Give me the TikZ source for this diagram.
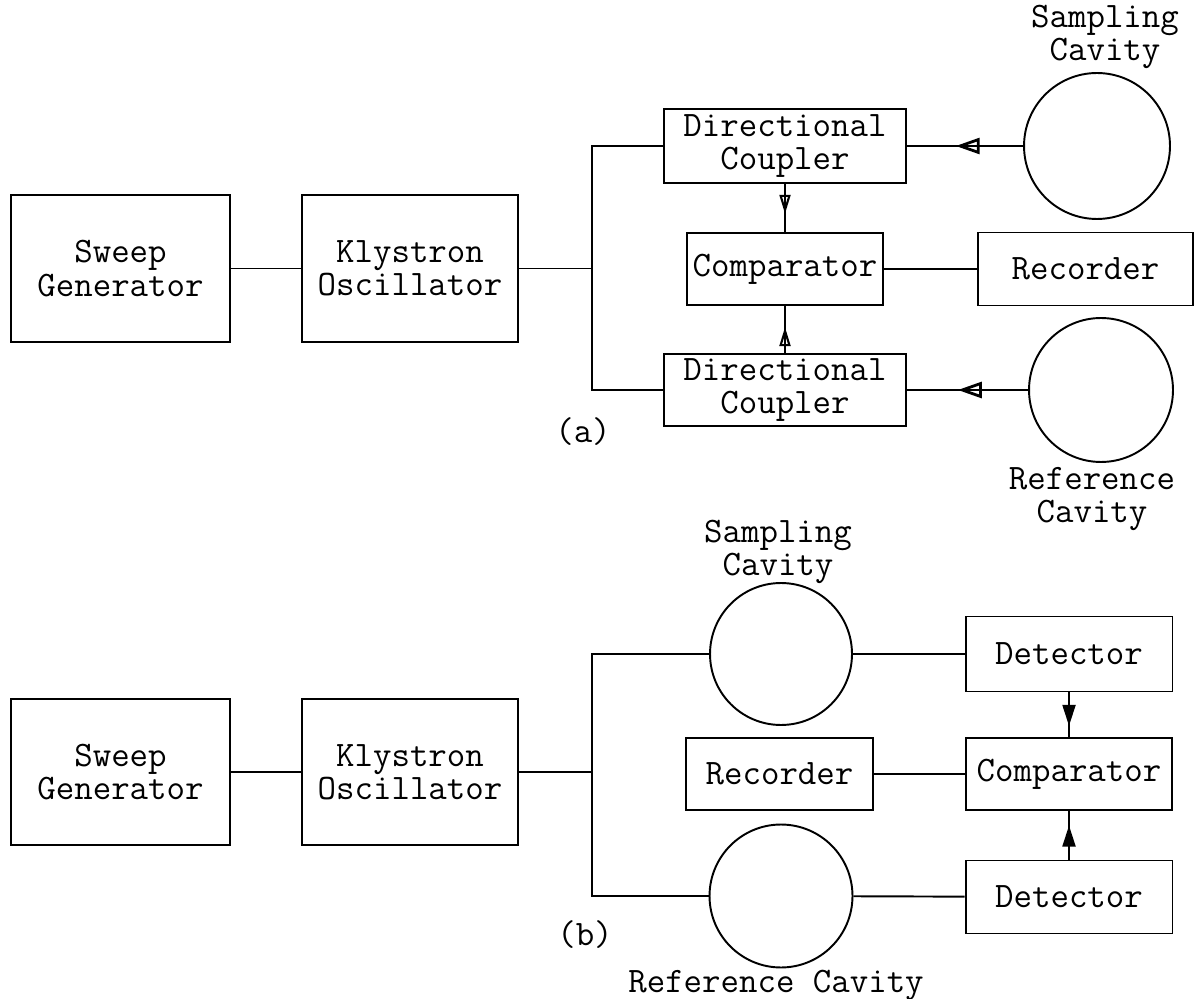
\documentclass[tikz,border=0pt]{standalone}
\usetikzlibrary{arrows.meta}
\usetikzlibrary{decorations.markings}

\begin{document}
\begin{tikzpicture}[
  x=0.02cm, y=-0.02cm, line width=1.1pt,
  every node/.style={font=\ttfamily\fontsize{20.4}{19}\selectfont, inner sep=0pt},
  box/.style={draw, rectangle, align=center},
  cavity/.style={draw, circle},
  lbl/.style={align=center},
  opentip/.style={postaction={decorate}, decoration={markings,
    mark=at position #1 with {\arrow{Triangle[open, length=0.48cm, width=0.32cm, line width=1.6pt]}}}},
  slimtip/.style={postaction={decorate}, decoration={markings,
    mark=at position #1 with {\arrow{Triangle[open, length=0.38cm, width=0.22cm, line width=1.2pt]}}}},
  filltip/.style={postaction={decorate}, decoration={markings,
    mark=at position #1 with {\arrow{Triangle[length=0.42cm, width=0.26cm]}}}}
]
\useasboundingbox (0,0) rectangle (1196,999);

% (a)
\node[box, minimum width=4.38cm, minimum height=2.94cm] (sga) at (120.5,268.5) {Sweep\\Generator};
\node[box, minimum width=4.32cm, minimum height=2.94cm] (koa) at (410,268.5) {Klystron\\Oscillator};
\node[box, minimum width=4.84cm, minimum height=1.48cm] (dcu) at (785,146) {Directional\\Coupler};
\node[box, minimum width=3.92cm, minimum height=1.44cm] (cpa) at (785,269) {Comparator};
\node[box, minimum width=4.84cm, minimum height=1.44cm] (dcl) at (785,390) {Directional\\Coupler};
\node[box, minimum width=4.3cm, minimum height=1.46cm] (rca) at (1085.5,269) {Recorder};
\node[cavity, minimum size=2.92cm] (sca) at (1097,146) {};
\node[cavity, minimum size=2.88cm] (rfa) at (1101,390) {};
\node[lbl] (sclbla) at (1105,37) {Sampling\\Cavity};
\node[lbl] (rflbla) at (1092,499) {Reference\\Cavity};
\node (taga) at (583,432) {(a)};
\coordinate (ja) at (592,268.5);

\draw (sga) -- (koa);
\draw (koa) -- (ja);
\draw (dcu.west) -| (ja) |- (dcl.west);
\draw[slimtip=0.62] (dcu) -- (cpa);
\draw[slimtip=0.55] (dcl) -- (cpa);
\draw (cpa) -- (rca);
\draw[opentip=0.58] (sca) -- (dcu);
\draw[opentip=0.58] (rfa) -- (dcl);

% (b)
\node[box, minimum width=4.38cm, minimum height=2.92cm] (sgb) at (120.5,772) {Sweep\\Generator};
\node[box, minimum width=4.32cm, minimum height=2.92cm] (kob) at (410,772) {Klystron\\Oscillator};
\node[cavity, minimum size=2.84cm] (scb) at (781,654) {};
\node[cavity, minimum size=2.86cm] (rfb) at (781,896) {};
\node[box, minimum width=4.14cm, minimum height=1.5cm] (dtu) at (1069,654) {Detector};
\node[box, minimum width=4.12cm, minimum height=1.44cm] (cpb) at (1069,774) {Comparator};
\node[box, minimum width=3.74cm, minimum height=1.44cm] (rcb) at (779.5,774) {Recorder};
\node[box, minimum width=4.14cm, minimum height=1.46cm] (dtl) at (1069,897) {Detector};
\node[lbl] (sclblb) at (778,552) {Sampling\\Cavity};
\node[lbl] (rflblb) at (776,985) {Reference Cavity};
\node (tagb) at (585,935) {(b)};
\coordinate (jb) at (592,772);

\draw (sgb) -- (kob);
\draw (kob) -- (jb);
\draw (scb.west) -| (jb) |- (rfb.west);
\draw (scb) -- (dtu);
\draw (rfb) -- (dtl);
\draw (rcb) -- (cpb);
\draw[filltip=0.75] (dtu) -- (cpb);
\draw[filltip=0.7] (dtl) -- (cpb);
\end{tikzpicture}
\end{document}
